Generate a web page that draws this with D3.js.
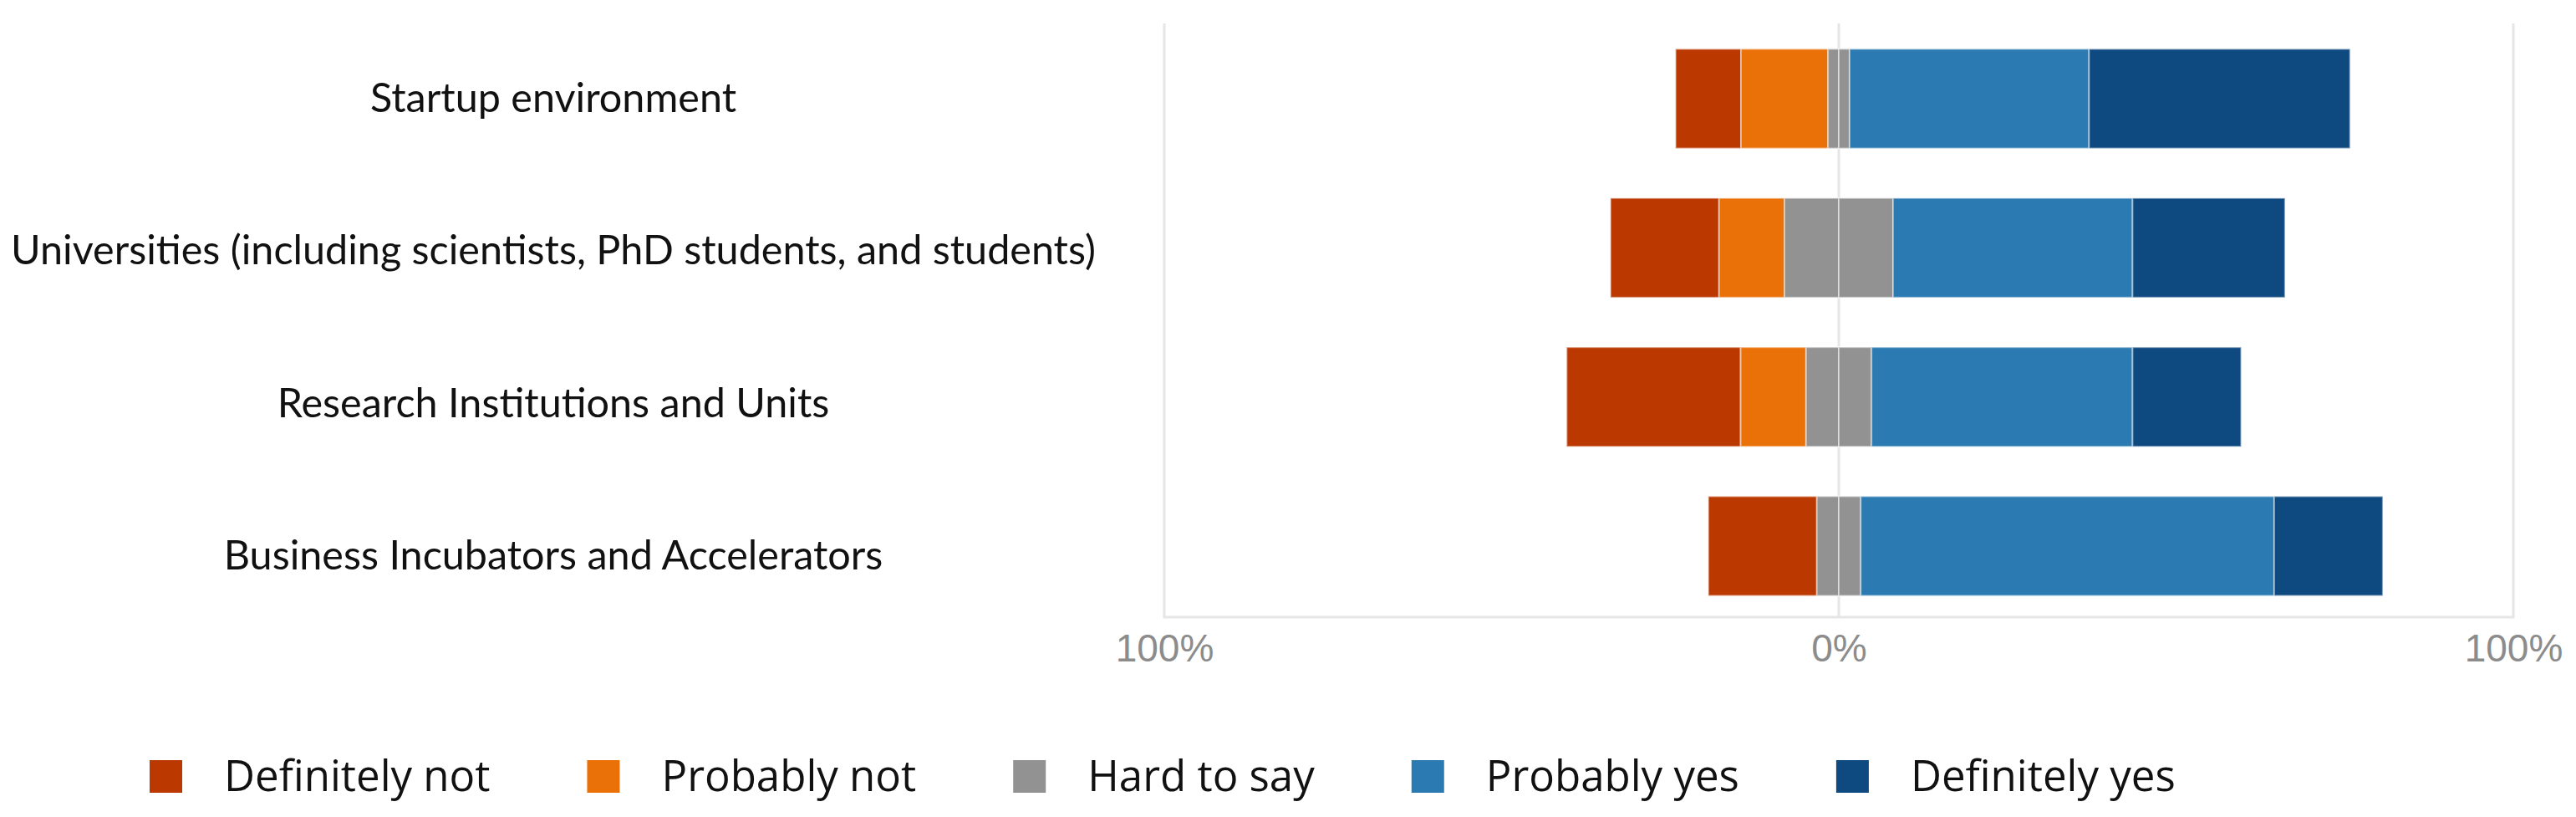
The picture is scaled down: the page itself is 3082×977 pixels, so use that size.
<!DOCTYPE html>
<html>
<head>
    <script type="text/javascript" src="https://cdn.jsdelivr.net/npm/d3@7"></script>
    <style>
    body {
        padding: 0;
        margin: 0;
        background: #fff;
    }
    #viz svg { display: block; }
    </style>
</head>
<body>
    <div id="viz"></div>
    <script type="text/javascript">

    // survey answers, in percent of respondents
    var categories = [
      "Startup environment",
      "Universities (including scientists, PhD students, and students)",
      "Research Institutions and Units",
      "Business Incubators and Accelerators"
    ];
    var answers = ["Definitely not", "Probably not", "Hard to say", "Probably yes", "Definitely yes"];
    var colors = ["#bb3901", "#ea7107", "#929292", "#2b7bb2", "#0e4980"];

    var definitelyNot = [9.7, 16.1, 25.8, 16.1];
    var probablyNot   = [12.9, 9.7, 9.7, 0];
    var hardToSay     = [3.2, 16.1, 9.7, 6.5];
    var probablyYes   = [35.5, 35.5, 38.7, 61.3];
    var definitelyYes = [38.7, 22.6, 16.1, 16.1];

    var tickValues = [-100, 0, 100];

    var W = 3082, H = 977;
    var plotTop = 28, plotBottom = 738;

    var svg = d3.select('#viz')
      .append('svg')
      .attr('width', W)
      .attr('height', H);

    var x = d3.scaleLinear().domain([-100, 100]).range([1393, 3007]);
    var y = d3.scaleBand().domain(categories).range([30, 741])
      .paddingInner(0.333).paddingOuter(0.16);
    // the row labels sit on a slightly wider pitch than the bars
    var yLabel = d3.scalePoint().domain(categories).range([117, 664]);
    var color = d3.scaleOrdinal().domain(answers).range(colors);

    // diverging stack: neutral answer is split around zero
    var segs = [];
    categories.forEach(function(c, i) {
      var vals = [definitelyNot[i], probablyNot[i], hardToSay[i], probablyYes[i], definitelyYes[i]];
      var start = -(vals[0] + vals[1] + vals[2] / 2);
      vals.forEach(function(v, k) {
        if (k === 2) {
          segs.push({cat: c, key: answers[k], x0: start, x1: start + v / 2});
          segs.push({cat: c, key: answers[k], x0: start + v / 2, x1: start + v});
        } else if (v > 0) {
          segs.push({cat: c, key: answers[k], x0: start, x1: start + v});
        }
        start += v;
      });
    });

    // grid
    svg.append('g')
      .selectAll('line.grid')
      .data(tickValues)
      .enter().append('line')
      .attr('class', 'grid')
      .attr('x1', x).attr('x2', x)
      .attr('y1', plotTop).attr('y2', plotBottom)
      .attr('stroke', '#e6e6e6')
      .attr('stroke-width', 3);

    svg.append('line')
      .attr('x1', x(-100) - 1.5).attr('x2', x(100) + 1.5)
      .attr('y1', plotBottom).attr('y2', plotBottom)
      .attr('stroke', '#e6e6e6')
      .attr('stroke-width', 3);

    // bars
    svg.append('g')
      .selectAll('rect')
      .data(segs)
      .enter().append('rect')
      .attr('x', function(d) { return x(d.x0); })
      .attr('width', function(d) { return x(d.x1) - x(d.x0); })
      .attr('y', function(d) { return y(d.cat); })
      .attr('height', y.bandwidth())
      .attr('fill', function(d) { return color(d.key); })
      .attr('stroke', '#ffffff')
      .attr('stroke-opacity', 0.45)
      .attr('stroke-width', 2);

    // x axis labels
    var xAxis = svg.append('g')
      .attr('transform', 'translate(0,' + (plotBottom + 4) + ')')
      .call(d3.axisBottom(x).tickValues(tickValues).tickSize(0)
        .tickFormat(function(d) { return Math.abs(d) + '%'; }));
    xAxis.select('.domain').remove();
    xAxis.selectAll('text')
      .attr('dy', '0.71em')
      .attr('y', 16)
      .attr('fill', '#8c8c8c')
      .style('font-family', '"Liberation Sans", Arial, sans-serif')
      .style('font-size', '46px');

    // category labels
    svg.append('g')
      .selectAll('text')
      .data(categories)
      .enter().append('text')
      .attr('x', 662)
      .attr('y', yLabel)
      .attr('dy', '0.35em')
      .attr('text-anchor', 'middle')
      .attr('fill', '#111')
      .style('font-family', 'Lato, "Open Sans", sans-serif')
      .style('font-size', '48.5px')
      .text(function(d) { return d; });

    // legend
    var legend = svg.append('g').attr('transform', 'translate(179,928)');
    var lx = 0;
    answers.forEach(function(a) {
      var item = legend.append('g').attr('transform', 'translate(' + lx + ',0)');
      item.append('rect')
        .attr('x', 0).attr('y', -19)
        .attr('width', 39).attr('height', 39)
        .attr('fill', color(a));
      var t = item.append('text')
        .attr('x', 89).attr('y', 0)
        .attr('dy', '0.35em')
        .attr('fill', '#111')
        .style('font-family', '"Open Sans", sans-serif')
        .style('font-size', '51px')
        .text(a);
      lx += 89 + t.node().getComputedTextLength() + 116;
    });
    </script>
</body>
</html>
